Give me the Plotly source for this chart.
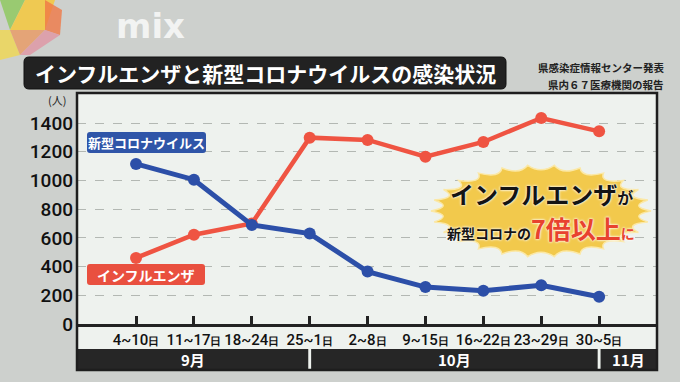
import numpy as np
import plotly.graph_objects as go

# ---------------- data ----------------
weeks = ["4~10", "11~17", "18~24", "25~1", "2~8", "9~15", "16~22", "23~29", "30~5"]
covid = [1115, 1005, 690, 630, 365, 257, 232, 270, 190]
flu = [460, 622, 700, 1298, 1282, 1165, 1268, 1435, 1342]
y_tick_vals = [0, 200, 400, 600, 800, 1000, 1200, 1400]
months = ["9月", "10月", "11月"]
month_breaks = [3, 8]  # week index where the month changes

title_text = "インフルエンザと新型コロナウイルスの感染状況"
source_lines = ["県感染症情報センター発表", "県内６７医療機関の報告"]

# ---------------- geometry helpers (pixel -> paper) ----------------
W, H = 680, 382
L, R, T, B = 77, 23, 93, 58
PW, PH = W - L - R, H - T - B


def X(px):
    return (px - L) / PW


def Y(py):
    return (H - B - py) / PH


def rrect(x0, y0, x1, y1, r):
    return (f"M {X(x0+r)},{Y(y0)} L {X(x1-r)},{Y(y0)} Q {X(x1)},{Y(y0)} {X(x1)},{Y(y0+r)} "
            f"L {X(x1)},{Y(y1-r)} Q {X(x1)},{Y(y1)} {X(x1-r)},{Y(y1)} "
            f"L {X(x0+r)},{Y(y1)} Q {X(x0)},{Y(y1)} {X(x0)},{Y(y1-r)} "
            f"L {X(x0)},{Y(y0+r)} Q {X(x0)},{Y(y0)} {X(x0+r)},{Y(y0)} Z")


def burst(cx, cy, rx, ry, n, k):
    ang = np.linspace(0, 2 * np.pi, n + 1)
    parts = []
    for i in range(n):
        a0, a1 = ang[i], ang[i + 1]
        am = (a0 + a1) / 2
        p0 = (cx + rx * np.cos(a0), cy + ry * np.sin(a0))
        p1 = (cx + rx * np.cos(a1), cy + ry * np.sin(a1))
        c = (cx + k * rx * np.cos(am), cy + k * ry * np.sin(am))
        if i == 0:
            parts.append(f"M {X(p0[0])},{Y(p0[1])}")
        parts.append(f"Q {X(c[0])},{Y(c[1])} {X(p1[0])},{Y(p1[1])}")
    return " ".join(parts) + " Z"


FONT = "Noto Sans CJK JP"
x_min, x_max = -1.02, 9.0


def note(px, py, text, size, color, xanchor="center", family=FONT, **kw):
    f = dict(family=family, size=size, color=color)
    f.update(kw)
    return dict(x=X(px), y=Y(py), xref="paper", yref="paper", text=text, showarrow=False,
                xanchor=xanchor, yanchor="middle", font=f)


fig = go.Figure()

fig.add_trace(go.Scatter(
    x=list(range(len(weeks))), y=flu, mode="lines+markers",
    line=dict(color="#ef5442", width=4.5),
    marker=dict(color="#ef5442", size=12),
    hoverinfo="skip", showlegend=False))
fig.add_trace(go.Scatter(
    x=list(range(len(weeks))), y=covid, mode="lines+markers",
    line=dict(color="#2c4fa8", width=5),
    marker=dict(color="#2c4fa8", size=12),
    hoverinfo="skip", showlegend=False))

shapes = []
annos = []

# frame interior (pale)
shapes.append(dict(type="rect", xref="paper", yref="paper", x0=0, x1=1, y0=Y(370), y1=1,
                   fillcolor="#eef2ee", line=dict(width=0), layer="below"))
# month bars
bounds = [x_min] + month_breaks + [x_max]
for i, m in enumerate(months):
    a, b = bounds[i], bounds[i + 1]
    shapes.append(dict(type="rect", xref="x", yref="paper",
                       x0=a + (0.025 if i > 0 else 0), x1=b - (0.025 if i < len(months) - 1 else 0),
                       y0=Y(370), y1=Y(349), fillcolor="#262626", line=dict(width=0), layer="above"))
    annos.append(dict(x=(a + b) / 2, y=Y(359.5), xref="x", yref="paper", text=f"<b>{m}</b>",
                      xanchor="center", yanchor="middle",
                      showarrow=False, font=dict(family=FONT, size=15, color="white")))
# frame border
shapes.append(dict(type="rect", xref="paper", yref="paper", x0=0, x1=1, y0=Y(370), y1=1,
                   fillcolor="rgba(0,0,0,0)", line=dict(color="#1e1e1e", width=2.5), layer="above"))

# title box
shapes.append(dict(type="path", xref="paper", yref="paper", path=rrect(24, 57, 506, 89, 5),
                   fillcolor="#222222", line=dict(color="#111", width=1), layer="above"))
annos.append(note(265, 73, f"<b>{title_text}</b>", 21, "white"))

# source lines
for j, s in enumerate(source_lines):
    annos.append(note(666, 67 + 17 * j, f"<b>{s}</b>", 10.5, "#222", xanchor="right"))

# unit label
annos.append(note(57, 100, "(人)", 11, "#222"))

# series label boxes
shapes.append(dict(type="path", xref="paper", yref="paper", path=rrect(87, 132, 206, 153, 3),
                   fillcolor="#2f55a8", line=dict(width=0), layer="above"))
annos.append(note(146.5, 142.5, "<b>新型コロナウイルス</b>", 13, "white"))
shapes.append(dict(type="path", xref="paper", yref="paper", path=rrect(87, 264, 205, 285, 3),
                   fillcolor="#e9503f", line=dict(width=0), layer="above"))
annos.append(note(146, 274.5, "<b>インフルエンザ</b>", 14, "white"))

# callout burst
shapes.append(dict(type="path", xref="paper", yref="paper", path=burst(541, 211, 110, 46, 26, 0.8),
                   fillcolor="#f2c94c", line=dict(color="#fbe8a6", width=1.5), layer="above"))
glow = "0 0 2px #fff, 0 0 3px #fff"
annos.append(note(541, 193, "<b>インフルエンザ</b><b><span style='font-size:16px'>が</span></b>",
                  24, "#141414", shadow=glow))
annos.append(note(541, 228,
                  ("<b>新型コロナの</b>"
                   "<b><span style='font-size:25px;color:#e8432e'>7倍以上</span></b>"
                   "<b><span style='font-size:14px;color:#e8432e'>に</span></b>"),
                  14, "#141414", shadow=glow))

# broadcaster logo
annos.append(note(150, 26, "<b>mix</b>", 34, "rgba(255,255,255,0.75)", family="DejaVu Sans"))
logo_polys = [
    ([(0, 0), (25, 0), (10, 30)], "rgba(140,200,90,0.8)"),
    ([(25, 0), (55, 0), (45, 30), (10, 30)], "rgba(245,200,60,0.85)"),
    ([(45, 0), (62, 10), (60, 35), (45, 30)], "rgba(240,120,70,0.8)"),
    ([(0, 30), (10, 30), (20, 55), (0, 60)], "rgba(240,215,80,0.8)"),
    ([(10, 30), (45, 30), (20, 55)], "rgba(235,150,90,0.75)"),
    ([(45, 30), (60, 35), (30, 55), (20, 55)], "rgba(230,130,150,0.6)"),
]
for pts, col in logo_polys:
    p = "M " + " L ".join(f"{X(a)},{Y(b)}" for a, b in pts) + " Z"
    shapes.append(dict(type="path", xref="paper", yref="paper", path=p, fillcolor=col,
                       line=dict(width=0), layer="below"))

tick_text = [f"{w}<span style='font-size:11px;font-weight:bold;color:#111'>日</span>" for w in weeks]

fig.update_layout(
    width=W, height=H,
    margin=dict(l=L, r=R, t=T, b=B),
    paper_bgcolor="#cdd0cd",
    plot_bgcolor="#eef2ee",
    shapes=shapes,
    annotations=annos,
    xaxis=dict(range=[x_min, x_max], tickmode="array", tickvals=list(range(len(weeks))),
               ticktext=tick_text, ticks="inside", ticklen=8, tickwidth=2.5, tickcolor="#222",
               showgrid=False, zeroline=False, showline=True, linecolor="#222", linewidth=3,
               tickfont=dict(family="Roboto", size=15, color="#111", weight=500), fixedrange=True),
    yaxis=dict(range=[0, 1609], tickmode="array", tickvals=y_tick_vals,
               ticktext=[str(v) for v in y_tick_vals], showgrid=True, gridcolor="#b3b8b3",
               griddash="dash", gridwidth=1, zeroline=False, showline=False,
               tickfont=dict(family="Roboto", size=19, color="#111", weight=500), ticks="",
               ticklabelstandoff=3, fixedrange=True),
    font=dict(family=FONT),
)

fig.write_html("out.html", config={"displayModeBar": False},
               post_script="document.body.style.margin='0px';document.body.style.overflow='hidden';")
